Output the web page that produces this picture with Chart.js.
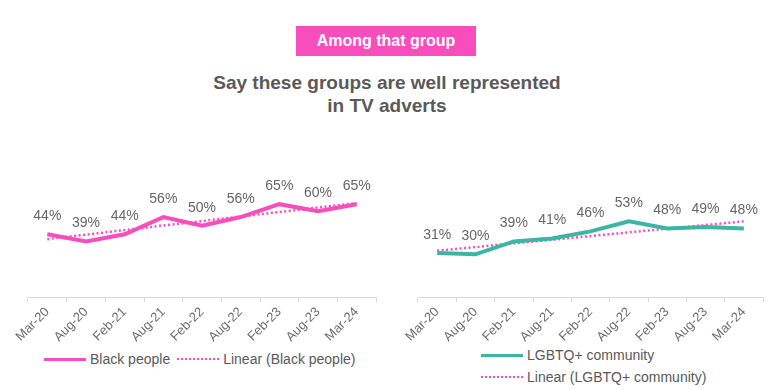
<!DOCTYPE html>
<html>
<head>
<meta charset="utf-8">
<script src="https://cdn.jsdelivr.net/npm/chart.js@4"></script>
<style>
  body { margin: 0; background: #fff; font-family: "Liberation Sans", Arial, sans-serif; }
  #wrap { position: relative; width: 783px; height: 389px; overflow: hidden; }
  .badge { position: absolute; left: 296px; top: 26px; width: 180px; height: 30px; background: #f84dbd;
           color: #fff; font-weight: bold; font-size: 16px; line-height: 30px; text-align: center; }
  .title { position: absolute; left: 187px; top: 71px; width: 400px; text-align: center; color: #595959;
           font-weight: bold; font-size: 19px; line-height: 23px; }
  .chartbox { position: absolute; top: 130px; height: 217px; }
  .legend { position: absolute; color: #595959; font-size: 14px; line-height: 16px; display: flex; align-items: center; white-space: nowrap; }
  .swatch { display: inline-block; width: 42px; margin-right: 4px; }
  .solid-pink { border-top: 3px solid #f84dbd; }
  .solid-teal { border-top: 3px solid #3cb5a5; }
  .dots { border-top: 2px dotted #f84dbd; }
</style>
</head>
<body>
<div id="wrap">
  <div class="badge">Among that group</div>
  <div class="title">Say these groups are well represented<br>in TV adverts</div>
  <div class="chartbox" style="left:0;width:392px"><canvas id="leftChart"></canvas></div>
  <div class="chartbox" style="left:396px;width:387px"><canvas id="rightChart"></canvas></div>
  <div class="legend" style="left:44px;top:351px">
    <span class="swatch solid-pink"></span>Black people
    <span class="swatch dots" style="margin-left:7px"></span>Linear (Black people)
  </div>
  <div class="legend" style="left:481px;top:347px">
    <span class="swatch solid-teal"></span>LGBTQ+ community
  </div>
  <div class="legend" style="left:481px;top:369px">
    <span class="swatch dots"></span>Linear (LGBTQ+ community)
  </div>
</div>
<script>
const months = ['Mar-20', 'Aug-20', 'Feb-21', 'Aug-21', 'Feb-22', 'Aug-22', 'Feb-23', 'Aug-23', 'Mar-24'];
const blackPeople = [44, 39, 44, 56, 50, 56, 65, 60, 65];
const lgbtq = [31, 30, 39, 41, 46, 53, 48, 49, 48];
// trend lines: only the two ends
const blackTrend = [40.6, null, null, null, null, null, null, null, 65.8];
const lgbtqTrend = [32.5, null, null, null, null, null, null, null, 53];

const pink = '#f84dbd';
const teal = '#3cb5a5';

// draws the % labels above the main series
const valueLabels = {
    id: 'valueLabels',
    afterDatasetsDraw(chart) {
        const ctx = chart.ctx;
        const meta = chart.getDatasetMeta(0);
        const values = chart.data.datasets[0].data;
        ctx.save();
        ctx.font = '14px "Liberation Sans", Arial, sans-serif';
        ctx.fillStyle = '#666666';
        ctx.textAlign = 'center';
        ctx.textBaseline = 'middle';
        meta.data.forEach((pt, i) => {
            ctx.fillText(values[i] + '%', pt.x, pt.y - 18);
        });
        ctx.restore();
    }
};

function makeChart(id, series, trend, color, padLeft, padRight) {
    const ctx = document.getElementById(id).getContext('2d');
    return new Chart(ctx, {
        type: 'line',
        data: {
            labels: months,
            datasets: [{
                data: series,
                borderColor: color,
                borderWidth: 4,
                pointRadius: 0,
                tension: 0
            }, {
                data: trend,
                borderColor: pink,
                borderWidth: 2.5,
                borderDash: [2, 2.5],
                pointRadius: 0,
                spanGaps: true
            }]
        },
        options: {
            responsive: true,
            maintainAspectRatio: false,
            animation: false,
            layout: { padding: { top: 24, right: padRight, left: padLeft, bottom: 0 } },
            scales: {
                x: {
                    offset: true,
                    border: { color: '#d9d9d9' },
                    grid: { offset: true, drawOnChartArea: false, tickLength: 5, color: '#d9d9d9' },
                    ticks: {
                        maxRotation: 45, minRotation: 45, padding: 2,
                        color: '#6e6e6e',
                        font: { family: '"Liberation Sans", Arial, sans-serif', size: 13 }
                    }
                },
                y: { display: false, min: 0, max: 100 }
            },
            plugins: { legend: { display: false }, tooltip: { enabled: false } }
        },
        plugins: [valueLabels]
    });
}

makeChart('leftChart', blackPeople, blackTrend, pink, 28, 16);
makeChart('rightChart', lgbtq, lgbtqTrend, teal, 22, 20);
</script>
</body>
</html>
